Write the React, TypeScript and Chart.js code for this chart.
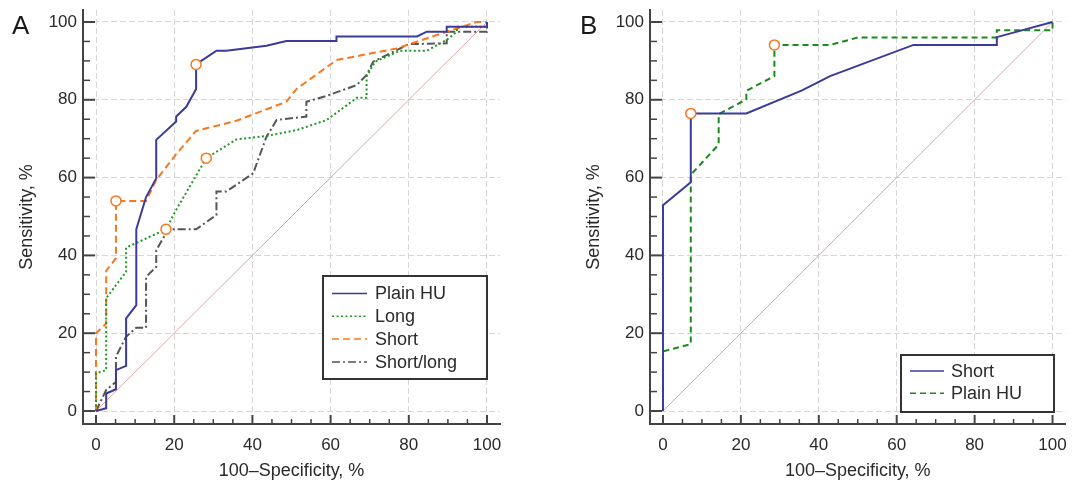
import React, { useEffect, useRef } from "react";
import { Chart, registerables } from "chart.js";

Chart.register(...registerables);
Chart.defaults.font.family = "'Liberation Sans', Arial, sans-serif";

// ---------- shared axis data ----------
const TICK_VALUES = [0, 20, 40, 60, 80, 100];
const MINOR_TICK_VALUES = [5, 10, 15, 25, 30, 35, 45, 50, 55, 65, 70, 75, 85, 90, 95];
const DIAGONAL = [0, 100];
const X_TITLE = "100–Specificity, %";
const Y_TITLE = "Sensitivity, %";

// ---------- Panel A ----------
const A_LABELS = ["Plain HU", "Long", "Short", "Short/long"];

const A_PLAIN_HU_FPR = [0, 2.6, 2.6, 5.1, 5.1, 7.7, 7.7, 10.3, 10.3, 12.8, 15.4, 15.4, 20.5, 20.5, 23.1, 25.6, 25.6, 30.8, 33.3, 43.6, 48.7, 61.5, 61.5, 82.1, 84.6, 89.7, 89.7, 100, 100];
const A_PLAIN_HU_TPR = [0, 0.7, 4.5, 5.6, 10.5, 11.6, 23.8, 27.2, 46.7, 55.0, 59.8, 69.7, 74.4, 75.7, 78.2, 82.8, 89.1, 92.6, 92.6, 93.9, 95.1, 95.1, 96.3, 96.3, 97.5, 97.5, 98.8, 98.8, 100];

const A_LONG_FPR = [0, 0, 2.6, 2.6, 7.7, 7.7, 17.9, 20.5, 28.2, 35.9, 43.6, 51.3, 59.0, 66.7, 69.2, 69.2, 71.4, 77.7, 84.6, 89.7, 92.3, 92.3, 100, 100];
const A_LONG_TPR = [0, 9.7, 10.5, 29.0, 35.8, 42.0, 46.7, 51.7, 65.0, 69.8, 70.7, 72.2, 74.8, 80.5, 80.5, 86.0, 89.8, 92.6, 92.6, 95.4, 97.5, 98.8, 98.8, 100];

const A_SHORT_FPR = [0, 0, 2.6, 2.6, 5.1, 5.1, 12.8, 15.4, 20.5, 25.6, 35.9, 48.7, 51.3, 61.5, 76.9, 89.7, 97.4, 100];
const A_SHORT_TPR = [0, 20.0, 22.5, 36.0, 39.3, 54.0, 54.0, 59.4, 66.0, 72.0, 74.6, 79.5, 82.8, 90.2, 93.2, 97.5, 100, 100];

const A_SHORTLONG_FPR = [0, 2.6, 5.1, 5.1, 7.7, 10.3, 12.8, 12.8, 15.4, 15.4, 17.9, 17.9, 25.6, 30.8, 30.8, 33.3, 40.2, 43.6, 46.2, 53.8, 53.8, 59.0, 66.7, 69.2, 70.9, 80.0, 89.7, 89.7, 100, 100];
const A_SHORTLONG_TPR = [0, 5.4, 7.5, 14.0, 19.1, 21.4, 21.4, 34.5, 37.0, 41.3, 45.7, 46.7, 46.7, 50.4, 56.4, 56.4, 61.1, 70.5, 74.8, 75.7, 79.5, 81.0, 83.8, 86.4, 89.8, 94.3, 94.5, 97.5, 97.5, 100];

const A_CUTOFF_FPR = [25.6, 5.1, 28.2, 17.9];
const A_CUTOFF_TPR = [89.1, 54.0, 65.0, 46.7];

// ---------- Panel B ----------
const B_LABELS = ["Short", "Plain HU"];

const B_SHORT_FPR = [0, 0, 7.14, 7.14, 21.4, 35.7, 42.9, 64.3, 85.7, 85.7, 100];
const B_SHORT_TPR = [0, 52.9, 58.8, 76.5, 76.5, 82.4, 86.1, 94.1, 94.1, 96.1, 100];

const B_PLAIN_HU_FPR = [0, 0, 7.14, 7.14, 14.3, 14.3, 21.4, 21.4, 28.6, 28.6, 42.9, 50.0, 85.7, 85.7, 100, 100];
const B_PLAIN_HU_TPR = [0, 15.3, 17.2, 60.7, 68.5, 76.3, 80.1, 82.3, 86.1, 94.1, 94.1, 96.0, 96.0, 97.9, 97.9, 100];

const B_CUTOFF_FPR = [7.14, 28.6];
const B_CUTOFF_TPR = [76.5, 94.1];

// ---------- styles ----------
const BLUE = "#3b3b99";
const GREEN_DOT = "#1f9a1f";
const GREEN_DASH = "#1a8a1a";
const ORANGE = "#f7781e";
const GRAY = "#555555";
const DIAG_COLOR = "#dba6a6";
const AXIS_COLOR = "#444444";
const GRID_COLOR = "#d6d6d6";
const TEXT_COLOR = "#2a2a2a";

type Series = { label: string; fpr: number[]; tpr: number[]; color: string; dash: number[]; width: number };
type LegendBox = { x: number; y: number; w: number; h: number; firstRow: number; rowGap: number; sampleX0: number; sampleX1: number; textX: number };

const decorPlugin = {
  id: "decor",
  afterDraw(chart: any, _args: any, opts: any) {
    const ctx: CanvasRenderingContext2D = chart.ctx;
    const xs = chart.scales.x;
    const ys = chart.scales.y;
    const area = chart.chartArea;
    ctx.save();
    ctx.strokeStyle = AXIS_COLOR;
    ctx.lineCap = "butt";
    const seg = (x0: number, y0: number, x1: number, y1: number, w: number) => {
      ctx.lineWidth = w;
      ctx.beginPath();
      ctx.moveTo(x0, y0);
      ctx.lineTo(x1, y1);
      ctx.stroke();
    };
    for (const v of TICK_VALUES) {
      const px = xs.getPixelForValue(v);
      seg(px, area.bottom, px, area.bottom - 9, 2);
      const py = ys.getPixelForValue(v);
      seg(area.left, py, area.left + 12, py, 2);
    }
    for (const v of MINOR_TICK_VALUES) {
      const px = xs.getPixelForValue(v);
      seg(px, area.bottom, px, area.bottom - 5, 1.5);
      const py = ys.getPixelForValue(v);
      seg(area.left, py, area.left + 7, py, 1.5);
    }

    // legend
    const lg: LegendBox = opts.legend;
    ctx.fillStyle = "#ffffff";
    ctx.fillRect(lg.x, lg.y, lg.w, lg.h);
    ctx.strokeStyle = "#333333";
    ctx.lineWidth = 2;
    ctx.strokeRect(lg.x, lg.y, lg.w, lg.h);
    ctx.font = "18px 'Liberation Sans', Arial, sans-serif";
    ctx.textBaseline = "middle";
    ctx.textAlign = "left";
    (opts.items as Series[]).forEach((s, i) => {
      const cy = lg.y + lg.firstRow + i * lg.rowGap;
      ctx.strokeStyle = s.color;
      ctx.lineWidth = 1.5;
      ctx.setLineDash(s.dash);
      ctx.beginPath();
      ctx.moveTo(lg.x + lg.sampleX0, cy);
      ctx.lineTo(lg.x + lg.sampleX1, cy);
      ctx.stroke();
      ctx.setLineDash([]);
      ctx.fillStyle = TEXT_COLOR;
      ctx.fillText(s.label, lg.x + lg.textX, cy + 1);
    });

    // panel letter
    ctx.font = "26px 'Liberation Sans', Arial, sans-serif";
    ctx.textBaseline = "alphabetic";
    ctx.fillStyle = "#1a1a1a";
    ctx.fillText(opts.letter, opts.letterX, 34);
    ctx.restore();
  },
};

function buildConfig(series: Series[], cutFpr: number[], cutTpr: number[], legend: LegendBox, letter: string, letterX: number, rightPad: number): any {
  const datasets: any[] = [
    {
      label: "cut-off",
      data: cutFpr.map((x, i) => ({ x, y: cutTpr[i] })),
      showLine: false,
      pointRadius: 5,
      pointHoverRadius: 5,
      pointBorderColor: ORANGE,
      pointBackgroundColor: "#ffffff",
      pointBorderWidth: 1.5,
      order: 0,
    },
    ...series.map((s, i) => ({
      label: s.label,
      data: s.fpr.map((x, j) => ({ x, y: s.tpr[j] })),
      showLine: true,
      pointRadius: 0,
      pointHoverRadius: 0,
      borderColor: s.color,
      backgroundColor: s.color,
      borderWidth: s.width,
      borderDash: s.dash,
      fill: false,
      tension: 0,
      order: 1 + i,
    })),
    {
      label: "reference",
      data: DIAGONAL.map((v) => ({ x: v, y: v })),
      showLine: true,
      pointRadius: 0,
      borderColor: DIAG_COLOR,
      borderWidth: 1,
      order: 20,
    },
  ];

  const common = (size: number) => ({
    type: "linear",
    grid: { color: GRID_COLOR, lineWidth: 1, drawTicks: false },
    border: { display: true, color: AXIS_COLOR, width: 2, dash: [6, 3] },
    afterBuildTicks: (s: any) => {
      s.ticks = TICK_VALUES.map((v) => ({ value: v }));
    },
    ticks: { color: TEXT_COLOR, font: { size }, autoSkip: false, maxRotation: 0 },
  });

  return {
    type: "scatter",
    data: { datasets },
    plugins: [decorPlugin],
    options: {
      animation: false,
      responsive: false,
      events: [],
      layout: { padding: { left: 0, top: 10, right: rightPad, bottom: 0 } },
      plugins: {
        legend: { display: false },
        tooltip: { enabled: false },
        decor: { legend, items: series, letter, letterX },
      },
      scales: {
        x: {
          ...common(17),
          min: -3.33,
          max: 103.33,
          ticks: { ...common(17).ticks, padding: 11 },
          afterFit: (s: any) => {
            s.height = 60;
            s.paddingLeft = 0;
            s.paddingRight = 0;
          },
          title: { display: true, text: X_TITLE, color: TEXT_COLOR, font: { size: 18 }, padding: { top: 0, bottom: 2 } },
        },
        y: {
          ...common(17),
          min: -3.34,
          max: 103.08,
          ticks: { ...common(17).ticks, padding: 6 },
          afterFit: (s: any) => {
            s.width = 83;
            s.paddingTop = 0;
            s.paddingBottom = 0;
          },
          title: { display: true, text: Y_TITLE, color: TEXT_COLOR, font: { size: 18 }, padding: { top: 16, bottom: 0 } },
        },
      },
    },
  };
}

const SERIES_A: Series[] = [
  { label: A_LABELS[0], fpr: A_PLAIN_HU_FPR, tpr: A_PLAIN_HU_TPR, color: BLUE, dash: [], width: 2 },
  { label: A_LABELS[1], fpr: A_LONG_FPR, tpr: A_LONG_TPR, color: GREEN_DOT, dash: [2, 2.5], width: 2 },
  { label: A_LABELS[2], fpr: A_SHORT_FPR, tpr: A_SHORT_TPR, color: ORANGE, dash: [7, 4], width: 2 },
  { label: A_LABELS[3], fpr: A_SHORTLONG_FPR, tpr: A_SHORTLONG_TPR, color: GRAY, dash: [8, 3, 2, 3], width: 2 },
];

const SERIES_B: Series[] = [
  { label: B_LABELS[0], fpr: B_SHORT_FPR, tpr: B_SHORT_TPR, color: BLUE, dash: [], width: 2 },
  { label: B_LABELS[1], fpr: B_PLAIN_HU_FPR, tpr: B_PLAIN_HU_TPR, color: GREEN_DASH, dash: [6, 4], width: 2 },
];

function Panel({ left, width, make }: { left: number; width: number; make: () => any }) {
  const ref = useRef<HTMLCanvasElement>(null);
  useEffect(() => {
    const chart = new Chart(ref.current as HTMLCanvasElement, make());
    return () => chart.destroy();
  }, []);
  return (
    <div style={{ position: "absolute", left, top: 0, width, height: 484 }}>
      <canvas ref={ref} width={width} height={484} style={{ display: "block" }} />
    </div>
  );
}

export default function App() {
  return (
    <div style={{ position: "absolute", left: 0, top: 0, width: 1072, height: 484, background: "#ffffff", overflow: "hidden" }}>
      <Panel
        left={0}
        width={536}
        make={() =>
          buildConfig(
            SERIES_A,
            A_CUTOFF_FPR,
            A_CUTOFF_TPR,
            { x: 323, y: 276, w: 164, h: 103, firstRow: 17.5, rowGap: 22.8, sampleX0: 9, sampleX1: 44, textX: 52 },
            "A",
            12,
            36
          )
        }
      />
      <Panel
        left={567}
        width={505}
        make={() =>
          buildConfig(
            SERIES_B,
            B_CUTOFF_FPR,
            B_CUTOFF_TPR,
            { x: 334, y: 355, w: 153, h: 57, firstRow: 16, rowGap: 22.3, sampleX0: 9, sampleX1: 43, textX: 50 },
            "B",
            13,
            6
          )
        }
      />
    </div>
  );
}
